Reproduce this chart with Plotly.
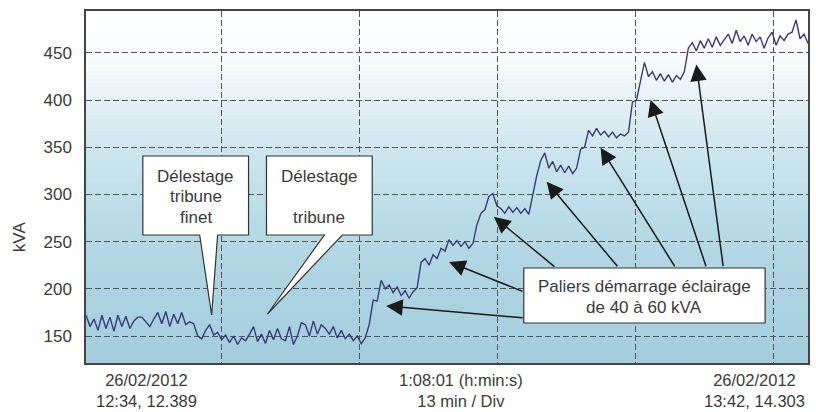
import numpy as np
import plotly.graph_objects as go

# ---------------- data ----------------
kva = [
    172, 160, 168, 156, 172, 158, 170, 155, 172, 160,
    171, 158, 166, 170, 170, 165, 160, 168, 175, 163,
    176, 160, 173, 163, 175, 162, 165, 163, 150, 147,
    156, 162, 151, 154, 146, 151, 143, 150, 141, 148,
    145, 152, 160, 144, 152, 142, 156, 146, 158, 147,
    145, 160, 141, 150, 164, 162, 150, 166, 152, 162,
    158, 152, 160, 148, 156, 147, 152, 145, 150, 142,
    148, 162, 188, 187, 209, 200, 204, 196, 202, 193,
    198, 190, 197, 201, 228, 232, 225, 236, 232, 243,
    240, 252, 246, 251, 245, 250, 243, 248, 268, 280,
    284, 298, 301, 288, 285, 280, 287, 281, 286, 280,
    285, 279, 300, 320, 336, 344, 328, 335, 324, 331,
    323, 330, 322, 328, 348, 350, 368, 362, 370, 363,
    367, 361, 366, 360, 364, 362, 366, 398, 400, 420,
    440, 425, 430, 421, 428, 420, 427, 419, 426, 422,
    430, 455, 461, 452, 463, 455, 465, 456, 467, 458,
    464, 470, 460, 474, 462, 468, 458, 470, 462, 467,
    455, 466, 472, 458, 468, 463, 470, 472, 485, 465,
    470, 460,
]
total_minutes = 68.02          # 1:08:01
time_min = np.linspace(0, total_minutes, len(kva))

y_ticks = [150, 200, 250, 300, 350, 400, 450]
x_grid_minutes = [12.8, 25.8, 38.8, 51.8, 64.8]   # 13 min / Div

x_label_left = ["26/02/2012", "12:34, 12.389"]
x_label_mid = ["1:08:01 (h:min:s)", "13 min / Div"]
x_label_right = ["26/02/2012", "13:42, 14.303"]
y_title = "kVA"

callout1 = ["Délestage", "tribune", "finet"]
callout2 = ["Délestage", "", "tribune"]
callout3 = ["Paliers démarrage éclairage", "de 40 à 60 kVA"]

# arrow targets (time in min, kVA) for the "Paliers" callout
arrow_t = [28.28, 34.20, 38.43, 43.40, 48.48, 53.18, 57.50]
arrow_kva = [181.8, 228.5, 276.3, 313.4, 349.5, 400.4, 437.6]

# ---------------- layout geometry ----------------
W, H = 816, 412
L, R, T, B = 86, 810, 11, 363
FONT = "Liberation Sans, Arial, sans-serif"
TXT = "#3a3a3a"


def pxx(x):
    return (x - L) / (R - L)


def pxy(y):
    return (B - y) / (B - T)


fig = go.Figure()
fig.add_trace(go.Scatter(
    x=time_min, y=kva, mode="lines",
    line=dict(color="#3b3a78", width=1.4),
    hoverinfo="skip", showlegend=False,
))

shapes = []
# background gradient (white at top -> light blue at bottom)
stops = [(11, (255, 255, 255)), (60, (250, 252, 253)), (100, (228, 241, 246)),
         (150, (205, 230, 239)), (200, (190, 222, 234)), (260, (177, 214, 228)),
         (363, (163, 205, 221))]


def col_at(y):
    for (y0, c0), (y1, c1) in zip(stops[:-1], stops[1:]):
        if y0 <= y <= y1:
            f = (y - y0) / (y1 - y0)
            return tuple(int(round(a + (b - a) * f)) for a, b in zip(c0, c1))
    return stops[-1][1]


step = 4
y = T
while y < B:
    c = col_at(y + step / 2)
    shapes.append(dict(type="rect", xref="paper", yref="paper", layer="below",
                       x0=0, x1=1, y0=pxy(min(y + step + 0.6, B)), y1=pxy(y),
                       line=dict(width=0), fillcolor="rgb(%d,%d,%d)" % c))
    y += step


def path(points):
    s = "M " + " L ".join("%.5f,%.5f" % (pxx(a), pxy(b)) for a, b in points) + " Z"
    return s


box_style = dict(type="path", xref="paper", yref="paper", layer="above",
                 fillcolor="white", line=dict(color="#333333", width=1.2))
shapes.append(dict(path=path([(143, 156), (249, 156), (249, 235), (218, 235),
                              (212, 315), (200, 235), (143, 235)]), **box_style))
shapes.append(dict(path=path([(267, 156), (373, 156), (373, 235), (343, 235),
                              (268, 314), (325, 235), (267, 235)]), **box_style))
shapes.append(dict(path=path([(525, 268), (767, 268), (767, 323), (525, 323)]), **box_style))

annotations = []


def text(t, x, y, size=17, angle=0, yanchor="middle"):
    annotations.append(dict(text=t, x=pxx(x), y=pxy(y), xref="paper", yref="paper",
                            xanchor="center", yanchor=yanchor, showarrow=False,
                            textangle=angle,
                            font=dict(family=FONT, size=size, color=TXT)))


for t, yy in zip(callout1, [176, 197, 217]):
    text(t, 196, yy)
for t, yy in zip(callout2, [176, 197, 217]):
    if t:
        text(t, 320, yy)
for t, yy in zip(callout3, [286, 307]):
    text(t, 646, yy)

text("<br>".join(x_label_left), 147, 412, size=16.5, yanchor="bottom")
text("<br>".join(x_label_mid), 462, 412, size=16.5, yanchor="bottom")
text("<br>".join(x_label_right), 756, 412, size=16.5, yanchor="bottom")
text(y_title, 19, 237, size=17, angle=-90)

tails = [(525, 318), (525, 292), (557, 268), (620, 268), (677, 268), (708, 268), (725, 268)]
heads_px = [(387, 306), (450, 262), (495, 217), (548, 182), (602, 148), (652, 100), (698, 65)]
for t, v, (tx, ty), (hx, hy) in zip(arrow_t, arrow_kva, tails, heads_px):
    annotations.append(dict(x=t, y=v, xref="x", yref="y", text="", showarrow=True,
                            ax=tx - hx, ay=ty - hy, arrowhead=2, arrowsize=2.2,
                            arrowwidth=1.5, arrowcolor="#1a1a1a", standoff=0))

fig.update_layout(
    width=W, height=H,
    margin=dict(l=L, r=W - R, t=T, b=H - B),
    paper_bgcolor="white", plot_bgcolor="white",
    shapes=shapes, annotations=annotations,
    font=dict(family=FONT, color=TXT),
    xaxis=dict(range=[0, total_minutes], tickvals=x_grid_minutes,
               ticktext=[""] * len(x_grid_minutes), showgrid=True,
               gridcolor="#555555", gridwidth=1, griddash="6px,3px",
               showline=True, mirror=True, linecolor="#444444", linewidth=1.5,
               zeroline=False, ticks=""),
    yaxis=dict(range=[121.4, 494.4], tickvals=y_ticks,
               ticktext=[str(v) for v in y_ticks], showgrid=True,
               gridcolor="#555555", gridwidth=1, griddash="6px,3px",
               showline=True, mirror=True, linecolor="#444444", linewidth=1.5,
               zeroline=False, ticks="outside", ticklen=9,
               tickcolor="rgba(0,0,0,0)",
               tickfont=dict(family=FONT, size=17, color=TXT)),
)

fig.write_html("out.html",
               config={"displayModeBar": False},
               post_script="document.body.style.margin='0';"
                           "document.body.style.overflow='hidden';")
